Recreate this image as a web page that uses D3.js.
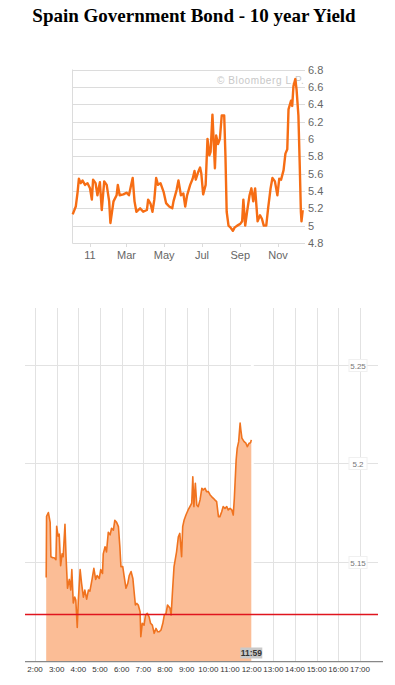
<!DOCTYPE html>
<html>
<head>
<meta charset="utf-8">
<script src="https://cdn.jsdelivr.net/npm/d3@7"></script>
<style>
  html, body { margin: 0; padding: 0; background: #fff; }
  svg { display: block; }
</style>
</head>
<body>
<div id="chart"></div>
<script>
// ---- yearly chart (Bloomberg) ----
const yearDates = [
  '2010-12-04','2010-12-09','2010-12-12','2010-12-14','2010-12-17','2010-12-20','2010-12-24','2010-12-28',
  '2011-01-01','2011-01-04','2011-01-06','2011-01-10','2011-01-13','2011-01-17','2011-01-20','2011-01-24',
  '2011-01-28','2011-02-01','2011-02-03','2011-02-08','2011-02-13','2011-02-15','2011-02-18','2011-02-24',
  '2011-03-01','2011-03-05','2011-03-08','2011-03-11','2011-03-14','2011-03-17','2011-03-23','2011-03-28',
  '2011-04-03','2011-04-05','2011-04-09','2011-04-12','2011-04-15','2011-04-18','2011-04-21','2011-04-25',
  '2011-04-30','2011-05-04','2011-05-09','2011-05-14','2011-05-16','2011-05-21','2011-05-24','2011-05-28',
  '2011-06-01','2011-06-04','2011-06-07','2011-06-12','2011-06-16','2011-06-19','2011-06-21','2011-06-25',
  '2011-06-28','2011-06-30','2011-07-03','2011-07-07','2011-07-10','2011-07-13','2011-07-15','2011-07-18',
  '2011-07-22','2011-07-24','2011-07-27','2011-07-30','2011-08-02','2011-08-06','2011-08-08','2011-08-10',
  '2011-08-13','2011-08-16','2011-08-20','2011-08-23','2011-08-27','2011-09-01','2011-09-04','2011-09-06',
  '2011-09-09','2011-09-12','2011-09-16','2011-09-19','2011-09-22','2011-09-25','2011-09-29','2011-10-03',
  '2011-10-06','2011-10-09','2011-10-13','2011-10-16','2011-10-20','2011-10-23','2011-10-27','2011-10-31',
  '2011-11-03','2011-11-06','2011-11-10','2011-11-13','2011-11-16','2011-11-18','2011-11-22','2011-11-24',
  '2011-11-26','2011-11-29','2011-12-01','2011-12-04','2011-12-06','2011-12-08','2011-12-09','2011-12-11'
];
const yearYields = [
  5.13,5.22,5.39,5.54,5.49,5.52,5.47,5.49,
  5.43,5.30,5.53,5.49,5.35,5.50,5.18,5.51,
  5.47,5.28,5.03,5.28,5.35,5.47,5.35,5.36,
  5.38,5.35,5.45,5.55,5.28,5.16,5.20,5.16,
  5.18,5.30,5.25,5.16,5.30,5.55,5.47,5.49,
  5.39,5.26,5.22,5.20,5.28,5.41,5.52,5.35,
  5.37,5.22,5.35,5.47,5.54,5.63,5.53,5.62,
  5.67,5.60,5.36,5.47,6.00,5.81,5.85,6.28,
  5.66,6.04,5.94,6.00,6.27,6.27,5.81,5.16,
  5.00,4.98,4.94,4.98,5.00,5.02,5.05,5.30,
  5.00,5.16,5.35,5.43,5.28,5.43,5.05,5.12,
  5.08,5.00,5.00,5.20,5.43,5.55,5.51,5.35,
  5.54,5.53,5.64,5.83,5.88,6.34,6.44,6.38,
  6.61,6.69,6.57,6.27,5.74,5.16,5.05,5.18
];
const yearTicks = ['2011-01-01','2011-03-01','2011-05-01','2011-07-01','2011-09-01','2011-11-01'];
const yearTickLabels = ['11','Mar','May','Jul','Sep','Nov'];
const yearYTicks = [4.8,5,5.2,5.4,5.6,5.8,6,6.2,6.4,6.6,6.8];

// ---- intraday chart ----
const dayTimes = [
  '2:31','2:32','2:37','2:42','2:44','2:49','2:53','2:58','3:00','3:04','3:07','3:11','3:15','3:18','3:23','3:26',
  '3:30','3:35','3:39','3:42','3:46','3:50','3:53','3:57','4:00','4:05','4:09','4:14','4:18','4:23','4:28','4:32',
  '4:38','4:43','4:48','4:52','4:58','5:02','5:07','5:09','5:14','5:18','5:23','5:28','5:32','5:37','5:41','5:46',
  '5:51','5:55','5:58','6:03','6:07','6:12','6:17','6:21','6:26','6:31','6:34','6:38','6:42','6:46','6:51','6:53',
  '6:57','7:02','7:06','7:11','7:16','7:20','7:25','7:30','7:35','7:40','7:44','7:49','7:54','7:58','8:03','8:07',
  '8:14','8:17','8:21','8:25','8:32','8:37','8:41','8:46','8:49','8:53','8:58','9:04','9:09','9:14','9:17','9:20',
  '9:24','9:28','9:32','9:37','9:42','9:46','9:51','9:55','10:00','10:05','10:09','10:14','10:18','10:23','10:28','10:32',
  '10:37','10:41','10:46','10:51','10:55','11:00','11:05','11:09','11:12','11:17','11:20','11:24','11:28','11:30','11:33','11:39',
  '11:44','11:48','11:53','11:57','11:59'
];
const dayYields = [
  5.142,5.173,5.175,5.170,5.1525,5.152,5.152,5.151,5.168,5.163,5.164,5.148,5.154,5.1525,5.169,5.1525,
  5.1365,5.141,5.1356,5.146,5.129,5.132,5.1305,5.1166,5.1305,5.146,5.139,5.132,5.1356,5.131,5.1356,5.135,
  5.141,5.1466,5.141,5.143,5.1415,5.146,5.144,5.154,5.1576,5.155,5.165,5.1636,5.167,5.166,5.171,5.170,
  5.1678,5.1576,5.1475,5.1475,5.1424,5.1365,5.139,5.143,5.145,5.1415,5.1356,5.128,5.1288,5.128,5.1246,5.1119,
  5.1187,5.1178,5.1229,5.1238,5.122,5.1187,5.1178,5.1136,5.1161,5.1144,5.1144,5.1153,5.1187,5.1229,5.1238,5.128,
  5.1263,5.1229,5.1356,5.1475,5.155,5.1627,5.1644,5.1525,5.1678,5.1712,5.1737,5.1763,5.178,5.1797,5.1932,5.178,
  5.1899,5.1788,5.178,5.1814,5.1873,5.1865,5.1873,5.1856,5.1856,5.1839,5.1831,5.1822,5.1814,5.1805,5.1729,5.1729,
  5.1754,5.178,5.1771,5.178,5.1763,5.1771,5.1763,5.1737,5.1822,5.2017,5.2077,5.211,5.2204,5.217,5.2128,5.211,
  5.2102,5.2085,5.2102,5.2105,5.2119
];
const dayHourTicks = ['2:00','3:00','4:00','5:00','6:00','7:00','8:00','9:00','10:00','11:00','12:00','13:00','14:00','15:00','16:00','17:00'];
const dayYTicks = [5.15, 5.2, 5.25];
const prevClose = 5.1232;
const lastLabel = '11:59';

const W = 395, H = 685;
const parseDate = d3.timeParse('%Y-%m-%d');
const toHours = s => { const [h, m] = s.split(':').map(Number); return h + m / 60; };
const SANS = 'Arial, "Liberation Sans", sans-serif';

const svg = d3.select('#chart').append('svg').attr('width', W).attr('height', H);

svg.append('text')
  .attr('x', 194).attr('y', 22)
  .attr('text-anchor', 'middle')
  .attr('font-family', '"Liberation Serif", "Times New Roman", serif')
  .attr('font-weight', 'bold')
  .attr('font-size', 19)
  .attr('fill', '#000')
  .text('Spain Government Bond - 10 year Yield');

// ============ top: one-year yield ============
(function drawYear() {
  const L = 72.5, R = 305, T = 69.5, B = 243;
  const x = d3.scaleTime()
    .domain([parseDate('2011-01-01'), parseDate('2011-11-01')])
    .range([90, 278]);
  const y = d3.scaleLinear().domain([4.8, 6.8]).range([B, T]);
  const g = svg.append('g');

  g.selectAll('.hgrid').data(yearYTicks).join('line')
    .attr('x1', L).attr('x2', R)
    .attr('y1', d => Math.round(y(d)) + 0.5).attr('y2', d => Math.round(y(d)) + 0.5)
    .attr('stroke', '#dcdcdc').attr('stroke-width', 1);
  g.append('line')
    .attr('x1', L).attr('x2', L).attr('y1', T).attr('y2', B + 0.5)
    .attr('stroke', '#dcdcdc');

  g.selectAll('.ytl').data(yearYTicks).join('text')
    .attr('x', 308).attr('y', d => y(d) + 4)
    .attr('font-family', SANS)
    .attr('font-size', 11).attr('fill', '#666')
    .text(d => d3.format('~g')(d));

  const xt = yearTicks.map(parseDate);
  g.selectAll('.xtk').data(xt).join('line')
    .attr('x1', d => Math.round(x(d)) + 0.5).attr('x2', d => Math.round(x(d)) + 0.5)
    .attr('y1', B).attr('y2', B + 4)
    .attr('stroke', '#dcdcdc');
  g.selectAll('.xtl').data(xt).join('text')
    .attr('x', d => x(d)).attr('y', B + 16)
    .attr('text-anchor', 'middle')
    .attr('font-family', SANS)
    .attr('font-size', 11).attr('fill', '#666')
    .text((d, i) => yearTickLabels[i]);

  g.append('text')
    .attr('x', 217).attr('y', 84)
    .attr('font-family', SANS)
    .attr('font-size', 10).attr('letter-spacing', 0.6)
    .attr('fill', '#c8c8c8')
    .text('\u00a9 Bloomberg L.P.');

  const pts = yearDates.map((d, i) => ({ t: parseDate(d), v: yearYields[i] }));
  g.append('path')
    .datum(pts)
    .attr('d', d3.line().x(p => x(p.t)).y(p => y(p.v)))
    .attr('fill', 'none')
    .attr('stroke', '#f66d14')
    .attr('stroke-width', 2.4)
    .attr('stroke-linejoin', 'round');
})();

// ============ bottom: intraday ============
(function drawDay() {
  const L = 25, R = 378, T = 308, B = 661.7;
  const x = d3.scaleLinear().domain([2, 17]).range([35, 360]);
  const y = d3.scaleLinear().domain([5.15, 5.2]).range([561.7, 463.3]);
  const g = svg.append('g');

  g.selectAll('.vgrid').data(dayHourTicks).join('line')
    .attr('x1', d => Math.round(x(toHours(d))) + 0.5).attr('x2', d => Math.round(x(toHours(d))) + 0.5)
    .attr('y1', T).attr('y2', B)
    .attr('stroke', '#e2e2e2');
  g.selectAll('.hgrid').data(dayYTicks).join('line')
    .attr('x1', L).attr('x2', R)
    .attr('y1', d => Math.round(y(d)) + 0.5).attr('y2', d => Math.round(y(d)) + 0.5)
    .attr('stroke', '#e2e2e2');

  // cursor line at last trade hides the 12:00 grid line
  const lastX = x(toHours(dayTimes[dayTimes.length - 1]));
  g.append('line')
    .attr('x1', lastX + 1).attr('x2', lastX + 1).attr('y1', T).attr('y2', B)
    .attr('stroke', '#fff').attr('stroke-width', 3);

  const pts = dayTimes.map((t, i) => ({ h: toHours(t), v: dayYields[i] }));
  g.append('path')
    .datum(pts)
    .attr('d', d3.area().x(p => x(p.h)).y0(B).y1(p => y(p.v)))
    .attr('fill', '#fbbd96');
  g.append('path')
    .datum(pts)
    .attr('d', d3.line().x(p => x(p.h)).y(p => y(p.v)))
    .attr('fill', 'none')
    .attr('stroke', '#f0731f')
    .attr('stroke-width', 1.6)
    .attr('stroke-linejoin', 'round');

  // previous close
  g.append('line')
    .attr('x1', L).attr('x2', R)
    .attr('y1', y(prevClose)).attr('y2', y(prevClose))
    .attr('stroke', '#e0141e').attr('stroke-width', 1.6);

  // y labels in small white boxes
  const yl = g.selectAll('.ylab').data(dayYTicks).join('g')
    .attr('transform', d => `translate(358,${Math.round(y(d)) + 0.5})`);
  yl.append('rect')
    .attr('x', -9).attr('y', -6).attr('width', 18).attr('height', 12)
    .attr('fill', '#fff').attr('stroke', '#f0f0f0');
  yl.append('text')
    .attr('text-anchor', 'middle').attr('y', 3)
    .attr('font-family', SANS)
    .attr('font-size', 8).attr('fill', '#777')
    .text(d => d3.format('~g')(d));

  // axis
  g.append('line')
    .attr('x1', L).attr('x2', 383).attr('y1', B).attr('y2', B)
    .attr('stroke', '#888').attr('stroke-width', 1.2);
  g.selectAll('.xtl').data(dayHourTicks).join('text')
    .attr('x', d => x(toHours(d))).attr('y', B + 10)
    .attr('text-anchor', 'middle')
    .attr('font-family', SANS)
    .attr('font-size', 8).attr('fill', '#333')
    .text(d => d);

  // last-trade marker
  const lg = g.append('g').attr('transform', `translate(${lastX},653)`);
  lg.append('rect')
    .attr('x', -11).attr('y', -5.5).attr('width', 22).attr('height', 11)
    .attr('fill', '#c9c9c9');
  lg.append('text')
    .attr('text-anchor', 'middle').attr('y', 3)
    .attr('font-family', SANS)
    .attr('font-size', 8.5).attr('font-weight', 'bold').attr('fill', '#333')
    .text(lastLabel);
})();
</script>
</body>
</html>
